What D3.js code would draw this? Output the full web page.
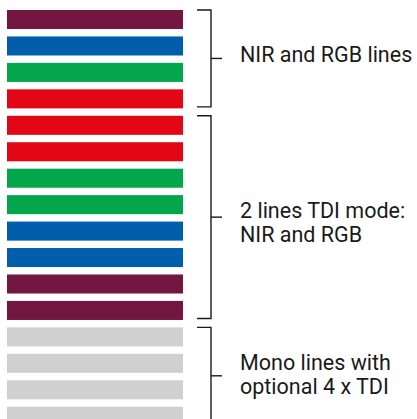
<!DOCTYPE html>
<html>
<head>
<meta charset="utf-8">
<script src="https://cdn.jsdelivr.net/npm/d3@7"></script>
<style>
  body { margin: 0; background: #fff; }
  text { font-family: Roboto, "Noto Sans", sans-serif; }
</style>
</head>
<body>
<div id="chart"></div>
<script>
// Sensor lines from top to bottom
const lineBands = ["NIR", "Blue", "Green", "Red", "Red", "Red", "Green", "Green",
                   "Blue", "Blue", "NIR", "NIR", "Mono", "Mono", "Mono", "Mono"];
const bandColors = { NIR: "#731641", Blue: "#005eab", Green: "#04a64b", Red: "#e30614", Mono: "#d0d0d0" };

// Groups of lines and their labels
const groupSizes = [4, 8, 4];
const groupLabels = [
  ["NIR and RGB lines"],
  ["2 lines TDI mode:", "NIR and RGB"],
  ["Mono lines with", "optional 4 x TDI"]
];

const width = 417, height = 419;

const svg = d3.select("#chart")
  .append("svg")
  .attr("width", width)
  .attr("height", height);

// band scale for the rows
const y = d3.scaleBand()
  .domain(d3.range(lineBands.length))
  .range([10, 425.75])
  .paddingInner(0.28)
  .paddingOuter(0);

const x = d3.scaleLinear().domain([0, 1]).range([7, 183]);

// bars
svg.selectAll(".bar")
  .data(lineBands)
  .enter().append("rect")
  .attr("class", "bar")
  .attr("x", x(0))
  .attr("y", (d, i) => y(i))
  .attr("width", x(1) - x(0))
  .attr("height", y.bandwidth())
  .attr("fill", d => bandColors[d]);

// brackets
let start = 0;
const groups = groupSizes.map((n, gi) => {
  const g = { first: start, last: start + n - 1, label: groupLabels[gi] };
  start += n;
  return g;
});

const bx0 = 197, bx1 = 211, bx2 = 222;
const labelDy = [4, 1, -6]; // first baseline relative to bracket tick
const lh = 24;

groups.forEach((g, gi) => {
  const top = y(g.first);
  const bottom = y(g.last) + y.bandwidth() - 1.5;
  const mid = (top + bottom) / 2;

  svg.append("path")
    .attr("d", `M${bx0},${top}H${bx1}V${bottom}H${bx0}`)
    .attr("fill", "none")
    .attr("stroke", "#1a1a1a")
    .attr("stroke-width", 1.4);

  svg.append("line")
    .attr("x1", bx1).attr("x2", bx2)
    .attr("y1", mid).attr("y2", mid)
    .attr("stroke", "#1a1a1a")
    .attr("stroke-width", 1.4);

  const firstBase = mid + labelDy[gi];
  const t = svg.append("text")
    .attr("x", 240)
    .attr("y", firstBase)
    .attr("font-size", 21.5)
    .attr("fill", "#1a1a1a");
  g.label.forEach((s, i) => {
    t.append("tspan")
      .attr("x", 240)
      .attr("y", firstBase + i * lh)
      .text(s);
  });
});
</script>
</body>
</html>
